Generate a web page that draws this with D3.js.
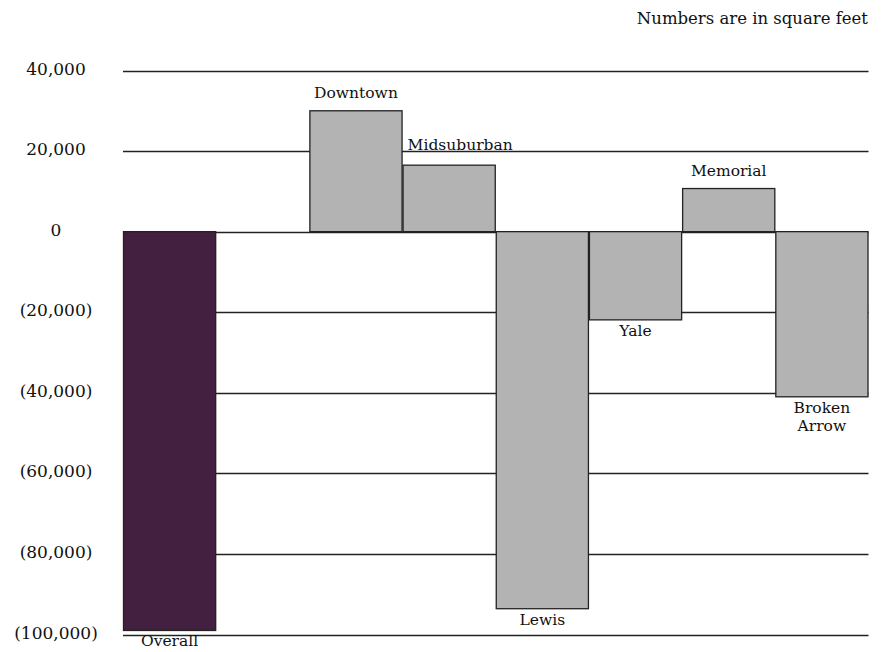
<!DOCTYPE html>
<html><head><meta charset="utf-8">
<script src="https://cdn.jsdelivr.net/npm/d3@7"></script>
<style>body{margin:0;background:#fff}svg{display:block}text{font-family:"DejaVu Serif",serif;fill:#111}</style>
</head><body>
<script>
const categories = ["Overall", "", "Downtown", "Midsuburban", "Lewis", "Yale", "Memorial", "Broken Arrow"];
const values = [-99000, null, 30000, 16500, -93600, -21900, 10700, -41000];
const tickValues = [40000, 20000, 0, -20000, -40000, -60000, -80000, -100000];
const tickLabels = ["40,000", "20,000", "0", "(20,000)", "(40,000)", "(60,000)", "(80,000)", "(100,000)"];
const labelLines = [["Overall"], [], ["Downtown"], ["Midsuburban"], ["Lewis"], ["Yale"], ["Memorial"], ["Broken", "Arrow"]];
const title = "Numbers are in square feet";

const W = 885, H = 652;
const svg = d3.select("body").append("svg").attr("width", W).attr("height", H);
const x = d3.scaleBand().domain(categories.map((c,i)=>i)).range([123, 868.5]).padding(0);
const y = d3.scaleLinear().domain([-100000, 40000]).range([634.5, 70.5]);

// gridlines
svg.append("g").selectAll("line").data(tickValues).join("line")
  .attr("x1", 123).attr("x2", 868.5)
  .attr("y1", d => Math.round(y(d)) + 0.5).attr("y2", d => Math.round(y(d)) + 0.5)
  .attr("stroke", "#222").attr("stroke-width", 1.3);

// tick labels
svg.append("g").selectAll("text").data(tickValues).join("text")
  .attr("x", 56).attr("y", d => y(d) + 4)
  .attr("text-anchor", "middle").attr("font-size", 17)
  .text((d,i) => tickLabels[i]);

// bars
const data = values.map((v,i)=>({i, v})).filter(d => d.v !== null);
svg.append("g").selectAll("rect").data(data).join("rect")
  .attr("x", d => x(d.i) + 0.5)
  .attr("width", x.bandwidth() - 1)
  .attr("y", d => y(Math.max(0, d.v)))
  .attr("height", d => Math.abs(y(d.v) - y(0)))
  .attr("fill", d => d.i === 0 ? "#432040" : "#b3b3b3")
  .attr("stroke", "#222").attr("stroke-width", 1.3);

// bar labels
const lg = svg.append("g");
data.forEach(d => {
  const cx = x(d.i) + x.bandwidth()/2 + (d.i === 3 ? 11 : 0);
  const lines = labelLines[d.i];
  if (d.v >= 0) {
    lines.forEach((t, k) => {
      lg.append("text").attr("x", cx).attr("y", y(d.v) - 12.5 - (d.i === 3 ? 2.5 : 0) - (lines.length-1-k)*18)
        .attr("text-anchor", "middle").attr("font-size", 15.5).text(t);
    });
  } else {
    lines.forEach((t, k) => {
      lg.append("text").attr("x", cx).attr("y", y(d.v) + 16 + k*18)
        .attr("text-anchor", "middle").attr("font-size", 15.5).text(t);
    });
  }
});

svg.append("text").attr("x", 868).attr("y", 24).attr("text-anchor", "end")
  .attr("font-size", 16.5).text(title);
</script>
</body></html>
